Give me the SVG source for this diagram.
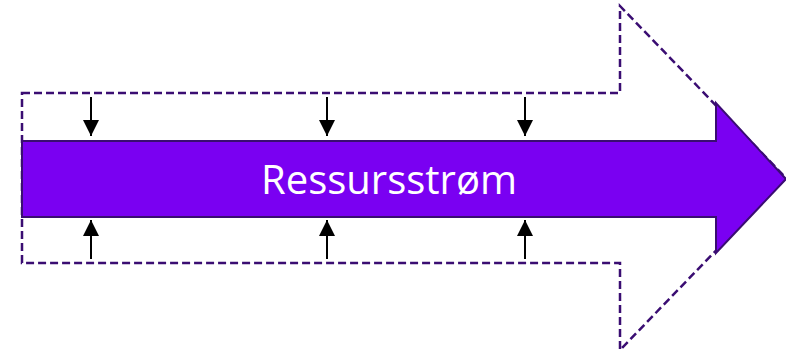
<svg xmlns="http://www.w3.org/2000/svg" width="786" height="357" viewBox="0 0 786 357">
<defs>
<style>
.outline{fill:none;stroke:#3a0d72;stroke-width:2.5;stroke-dasharray:8,4}
.flow{fill:#7a00f2;stroke:#3a0d72;stroke-width:2}
.conn line{stroke:#000;stroke-width:2}
.lbl{font-family:"Open Sans","Liberation Sans",sans-serif;font-size:40px;fill:#fff}
</style>
<marker id="ah2" viewBox="0 0 16 16" refX="16" refY="8" markerWidth="16" markerHeight="16" markerUnits="userSpaceOnUse" orient="auto">
<path d="M0,0 L16,8 L0,16 z" fill="#000"/>
</marker>
</defs>
<rect width="786" height="357" fill="#fff"/>
<g id="outline-arrow">
<path class="outline" d="M22,93 H620 V6 L786,178 L620,350 V263 H22 Z"/>
</g>
<g id="flow-arrow">
<path class="flow" d="M22,141 H716 V103 L786,179 L716,253 V217 H22 Z"/>
<text class="lbl" x="389" y="194" text-anchor="middle" textLength="256" lengthAdjust="spacingAndGlyphs">Ressursstrøm</text>
</g>
<g id="connectors" class="conn">
<line x1="91" y1="97" x2="91" y2="136" marker-end="url(#ah2)"/>
<line x1="327" y1="97" x2="327" y2="136" marker-end="url(#ah2)"/>
<line x1="525" y1="97" x2="525" y2="136" marker-end="url(#ah2)"/>
<line x1="91" y1="259" x2="91" y2="220" marker-end="url(#ah2)"/>
<line x1="327" y1="259" x2="327" y2="220" marker-end="url(#ah2)"/>
<line x1="525" y1="259" x2="525" y2="220" marker-end="url(#ah2)"/>
</g>
</svg>
